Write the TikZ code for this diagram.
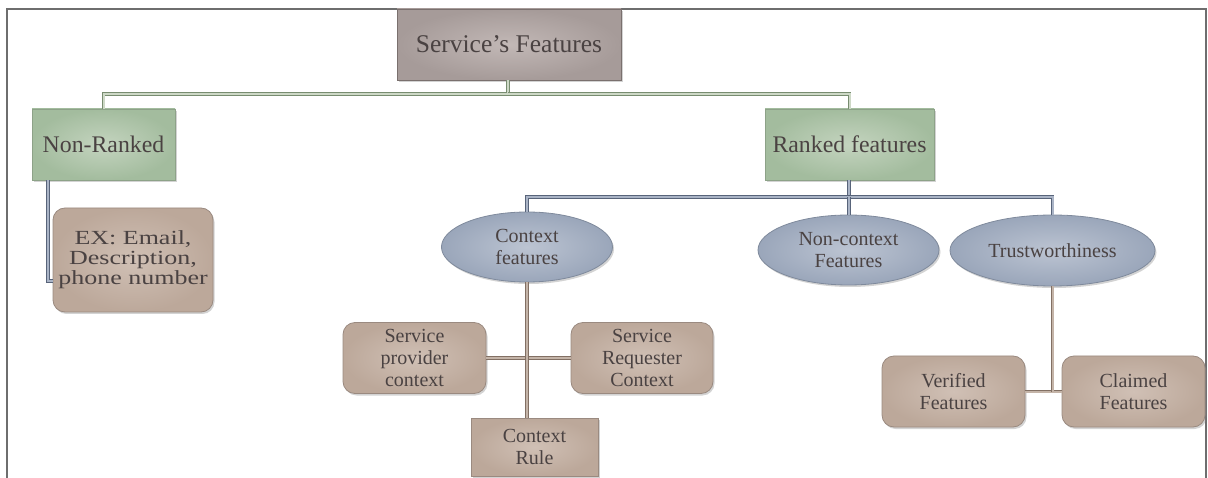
\documentclass[tikz,border=0pt]{standalone}
\usepackage{fontspec}
\setmainfont{Liberation Serif}
\newfontfamily\widefont[FakeStretch=1.3]{Liberation Serif}
\usetikzlibrary{shapes.geometric,shadows}
\definecolor{txtgray}{HTML}{4A4242}
\definecolor{framegray}{HTML}{6E6E6E}
\definecolor{rootdraw}{HTML}{7A706E}
\definecolor{rootin}{HTML}{C2B8B6}
\definecolor{rootout}{HTML}{A69B99}
\definecolor{greendraw}{HTML}{8DA288}
\definecolor{greenin}{HTML}{C4D4BF}
\definecolor{greenout}{HTML}{A3BC9E}
\definecolor{browndraw}{HTML}{9A8A80}
\definecolor{brownin}{HTML}{D0C0B5}
\definecolor{brownout}{HTML}{BCA89A}
\definecolor{bluedraw}{HTML}{7F8A9C}
\definecolor{bluein}{HTML}{BCC4D2}
\definecolor{blueout}{HTML}{9AA6BA}
\definecolor{glink}{HTML}{788C70}
\definecolor{glinkin}{HTML}{CDD8C6}
\definecolor{blink}{HTML}{58647A}
\definecolor{blinkin}{HTML}{AAB4C6}
\definecolor{rlink}{HTML}{827064}
\definecolor{rlinkin}{HTML}{C4B4A8}
\tikzset{%
  basebox/.style  = {shape=rectangle, draw, inner sep=0pt, align=center,%
                     text=txtgray, line width=0.8pt,%
                     drop shadow={shadow xshift=1.5pt, shadow yshift=-2pt, opacity=.35}},%
  rootbox/.style  = {basebox, draw=rootdraw, inner color=rootin, outer color=rootout,%
                     minimum width=224pt, minimum height=71pt, font=\fontsize{25.5}{27}\selectfont},%
  rankbox/.style  = {basebox, draw=greendraw, inner color=greenin, outer color=greenout,%
                     minimum height=71pt, font=\fontsize{23.8}{25}\selectfont},%
  leafbox/.style  = {basebox, rounded corners=12pt, draw=browndraw,%
                     inner color=brownin, outer color=brownout,%
                     minimum width=143pt, minimum height=71pt, font=\fontsize{20}{22}\selectfont},%
  rulebox/.style  = {leafbox, rounded corners=0pt},%
  featnode/.style = {basebox, ellipse, draw=bluedraw, inner color=bluein, outer color=blueout,%
                     minimum height=70pt, font=\fontsize{20}{22}\selectfont},%
  greenlink/.style = {draw=glink, line width=0.9pt, double=glinkin, double distance=2pt},%
  bluelink/.style  = {draw=blink, line width=0.9pt, double=blinkin, double distance=2pt},%
  brownlink/.style = {draw=rlink, line width=0.9pt, double=rlinkin, double distance=2pt}%
}
\begin{document}
\begin{tikzpicture}[x=1pt,y=-1pt]
	\useasboundingbox (0,0) rectangle (1208,478);
	\draw[line width=1.2pt, draw=framegray] (7,478) -- (7,9) -- (1206,9) -- (1206,478);
	\node[rootbox] (sf) at (509,44.5) {Service's Features};
	\node[rankbox, minimum width=143pt] (nr) at (103.5,144.5) {Non-Ranked};
	\node[rankbox, minimum width=169pt] (rk) at (849.5,144.5) {Ranked features};
	\node[leafbox, minimum width=160pt, minimum height=104pt, font=\widefont\fontsize{20}{20}\selectfont] (ex) at (133,260) {EX: Email,\\Description,\\phone number};
	\node[featnode, minimum width=171pt] (cf) at (527,247) {Context\\features};
	\node[featnode, minimum width=181pt] (nc) at (848.5,250) {Non-context\\Features};
	\node[featnode, minimum width=205pt, minimum height=71pt] (tw) at (1052.5,250.5) {Trustworthiness};
	\node[leafbox] (sp) at (414.5,358) {Service\\provider\\context};
	\node[leafbox, minimum width=142pt] (sr) at (642,358) {Service\\Requester\\Context};
	\node[rulebox, minimum width=127pt, minimum height=58pt] (cr) at (534.5,447) {Context\\Rule};
	\node[leafbox] (vf) at (953.5,391.5) {Verified\\Features};
	\node[leafbox] (cl) at (1133.5,391.5) {Claimed\\Features};
	\coordinate (top) at (508,94);
	\coordinate (mid) at (849,197);
	\draw[greenlink] (sf.south -| top) -- (top) -| (nr.north);
	\draw[greenlink] (top) -| (rk.north);
	\draw[bluelink] ([xshift=-55.5pt]nr.south) |- ([yshift=-21pt]ex.west);
	\draw[bluelink] (rk.south -| mid) -- (mid);
	\draw[bluelink] (cf.north) |- (mid) -| (tw.north);
	\draw[bluelink] (mid) -- (nc.north -| mid);
	\draw[brownlink] (sp.east) -- (sr.west);
	\draw[brownlink] (cf.south) -- (cf.south |- cr.north);
	\draw[brownlink] (vf.east) -- (cl.west);
	\draw[brownlink] (tw.south) -- (tw.south |- vf.east);
\end{tikzpicture}
\end{document}
